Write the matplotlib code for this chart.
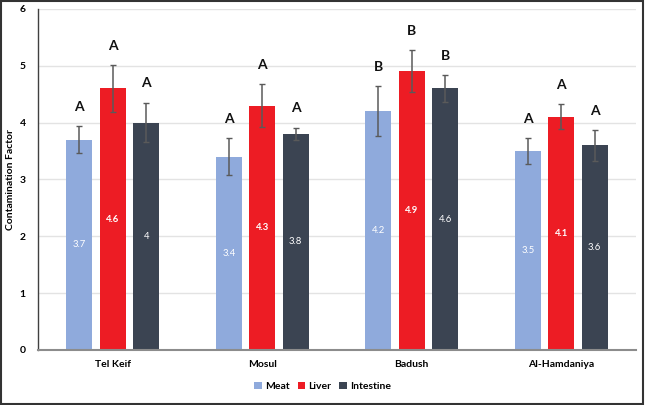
# plot.py
# Grouped bar chart of contamination factor per site and tissue,
# with error bars, significance letters and value labels.

import numpy as np
import matplotlib.pyplot as plt
from matplotlib.patches import Rectangle

plt.rcParams['font.family'] = ['Lato', 'DejaVu Sans']

# Data
sites = ['Tel Keif', 'Mosul', 'Badush', 'Al-Hamdaniya']
tissues = ['Meat', 'Liver', 'Intestine']
meat = [3.7, 3.4, 4.2, 3.5]
liver = [4.6, 4.3, 4.9, 4.1]
intestine = [4.0, 3.8, 4.6, 3.6]
meat_err = [0.24, 0.32, 0.44, 0.22]
liver_err = [0.41, 0.38, 0.37, 0.22]
intestine_err = [0.35, 0.11, 0.23, 0.27]
meat_letters = ['A', 'A', 'B', 'A']
liver_letters = ['A', 'A', 'B', 'A']
intestine_letters = ['A', 'A', 'B', 'A']

# Colours
colors = ['#8FAADC', '#ED1C24', '#3B4452']
label_weights = ['normal', 'bold', 'normal']

values = [meat, liver, intestine]
errors = [meat_err, liver_err, intestine_err]
letters = [meat_letters, liver_letters, intestine_letters]

fig = plt.figure(figsize=(6.45, 4.05), dpi=100)
ax = fig.add_axes([0.059, 0.136, 0.927, 0.842])

x = np.arange(len(sites))
width = 0.174
step = 0.224

for j, tissue in enumerate(tissues):
    pos = x + (j - 1) * step
    ax.bar(pos, values[j], width, color=colors[j], label=tissue, zorder=2)
    ax.errorbar(pos, values[j], yerr=errors[j], fmt='none', ecolor='#5A5A5A',
                elinewidth=1.1, capsize=2, capthick=1, zorder=3)
    for k in range(len(sites)):
        # value label in the middle of the bar
        ax.text(pos[k], values[j][k] / 2, f'{values[j][k]:g}', ha='center',
                va='center', color='white', fontsize=6.8,
                fontweight=label_weights[j], zorder=4)
        # significance letter above the error bar
        ax.text(pos[k], values[j][k] + errors[j][k] + 0.34, letters[j][k],
                ha='center', va='center', fontsize=10, fontweight='bold',
                color='#111111', zorder=4)

ax.set_xlim(-0.5, len(sites) - 0.5)
ax.set_ylim(0, 6)
ax.set_yticks(range(0, 7))
ax.set_xticks(x)
ax.set_xticklabels(sites, fontsize=7.5, fontweight='bold')
ax.tick_params(axis='y', labelsize=7.5, length=0, pad=9)
ax.tick_params(axis='x', length=0, pad=7)
for lab in ax.get_yticklabels():
    lab.set_fontweight('bold')

ax.set_ylabel('Contamination Factor', fontsize=7.5, fontweight='bold')
ax.yaxis.set_label_coords(-0.038, 0.5)

ax.grid(axis='y', color='#E3E3E3', linewidth=1, zorder=0)
ax.set_axisbelow(True)
ax.spines['top'].set_visible(False)
ax.spines['right'].set_visible(False)
ax.spines['left'].set_color('#404040')
ax.spines['left'].set_linewidth(1)
ax.spines['bottom'].set_color('#8C8C8C')
ax.spines['bottom'].set_linewidth(1.5)

leg = fig.legend(loc='center', bbox_to_anchor=(0.5, 0.045), ncol=3,
                 frameon=False, handlelength=0.7, handleheight=0.7,
                 handletextpad=0.3, columnspacing=0.8,
                 prop={'size': 7.5, 'weight': 'bold'})

# outer frame around the figure
fig.patches.append(Rectangle((0.002, 0.003), 0.995, 0.994, transform=fig.transFigure,
                             fill=False, edgecolor='#333333', linewidth=1.5))

plt.savefig('out.png', dpi=100)
